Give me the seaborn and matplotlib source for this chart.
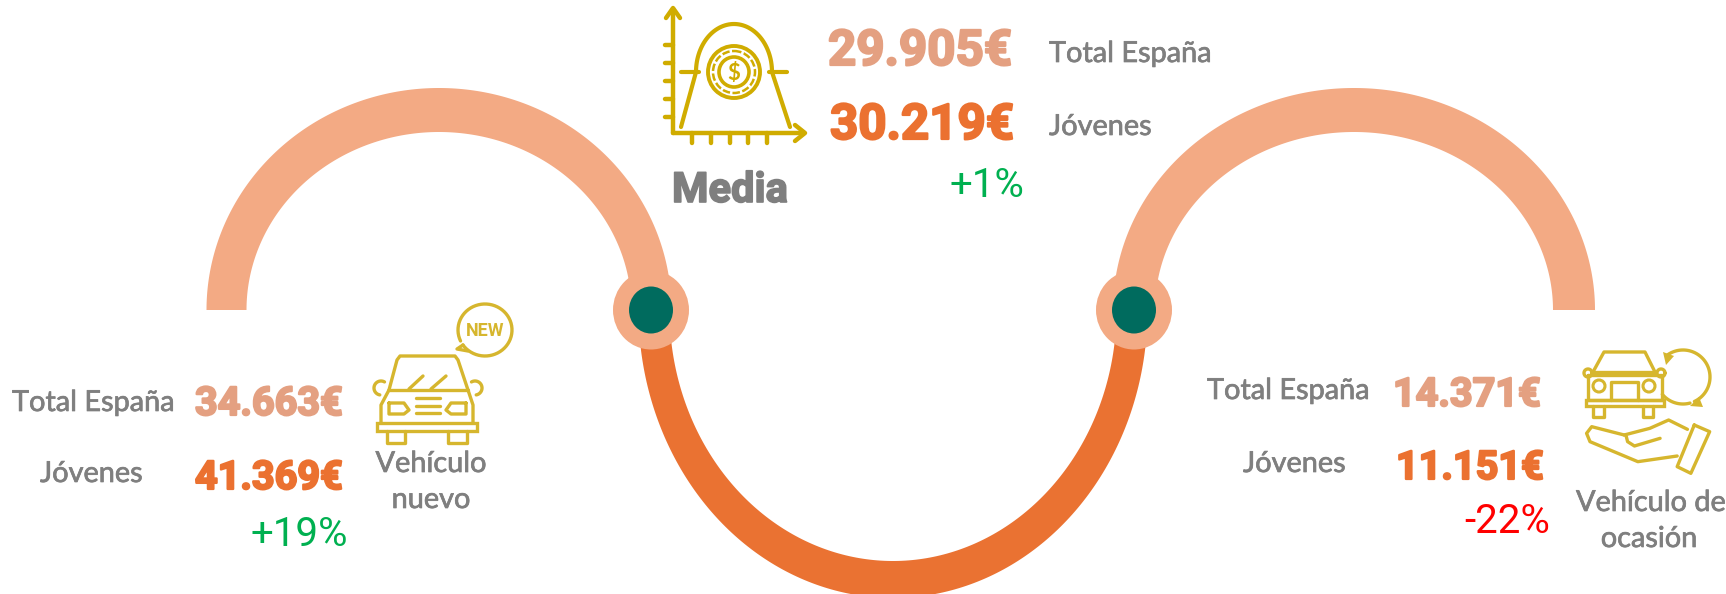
import numpy as np
import seaborn as sns
import matplotlib.pyplot as plt
import matplotlib.patheffects as pe
from matplotlib.patches import Ellipse, Circle, Rectangle

# values of the three blocks: media, vehiculo nuevo, vehiculo de ocasion
total_espana = [29905, 34663, 14371]
jovenes = [30219, 41369, 11151]
cambio = ['+1%', '+19%', '-22%']
cambio_color = ['#00B050', '#00B050', '#FF0000']
lab_total = 'Total España'
lab_jovenes = 'Jóvenes'

LIGHT = '#F3AA84'
ORANGE = '#EA7232'
TEAL = '#006B5E'
GRAY = '#7F7F7F'
VAL_LIGHT = '#E4A081'
VAL_ORANGE = '#EB7130'
GOLD = '#D0AC00'
GOLD2 = '#D6B62E'

sns.set_theme(style='white')
plt.rcParams['font.family'] = ['Lato', 'DejaVu Sans']

fig, ax = plt.subplots(figsize=(17.26, 5.94), dpi=100)
fig.subplots_adjust(0, 0, 1, 1)
ax.set_xlim(0, 1726)
ax.set_ylim(594, 0)
ax.axis('off')


def ring(cx, cy, a_out, b_out, a_in, b_in, color, upper=True, z=1):
    t = np.linspace(np.pi, 2 * np.pi, 200) if upper else np.linspace(np.pi, 0, 200)
    xo = cx + a_out * np.cos(t)
    yo = cy + b_out * np.sin(t)
    xi = cx + a_in * np.cos(t[::-1])
    yi = cy + b_in * np.sin(t[::-1])
    ax.fill(np.r_[xo, xi], np.r_[yo, yi], color=color, lw=0, zorder=z)


def stroke(xs, ys, color=GOLD2, lw=2.4):
    sns.lineplot(x=xs, y=ys, sort=False, estimator=None, color=color, linewidth=lw, ax=ax, zorder=4)


def arc(cx, cy, rx, ry, a0, a1, color=GOLD2, lw=2.4):
    t = np.radians(np.linspace(a0, a1, 60))
    ax.plot(cx + rx * np.cos(t), cy - ry * np.sin(t), color=color, lw=lw, zorder=4)


def value(x, y, v, color, size):
    s = f'{v:,}'.replace(',', '.') + '€'
    ax.text(x, y, s, color=color, fontsize=size, family=['Roboto', 'DejaVu Sans'], weight='bold',
            ha='left', va='baseline', zorder=5,
            path_effects=[pe.withStroke(linewidth=1.6, foreground=color)])


def label(x, y, s, ha='left', size=20.8):
    ax.text(x, y, s, color=GRAY, fontsize=size, ha=ha, va='baseline', zorder=5,
            path_effects=[pe.withStroke(linewidth=0.5, foreground=GRAY)])


def pct(x, y, s, color):
    ax.text(x, y, s, color=color, fontsize=29, family=['Roboto', 'DejaVu Sans'],
            ha='right', va='baseline', zorder=5)


# arches
ring(439, 310, 232.5, 222, 192.5, 178, LIGHT)
ring(1354, 310, 241, 222, 199, 178, LIGHT)
ring(893, 310, 254.5, 288, 223.5, 251, ORANGE, upper=False, z=0)

# joints
for cx in [651, 1134]:
    ax.add_patch(Ellipse((cx, 310), 76, 79, color=LIGHT, lw=0, zorder=2))
    ax.add_patch(Ellipse((cx, 310), 44, 47, color=TEAL, lw=0, zorder=3))

# Media block
value(828, 65, total_espana[0], VAL_LIGHT, 35.5)
value(830, 139, jovenes[0], VAL_ORANGE, 35.5)
label(1049, 62, lab_total)
label(1049, 135, lab_jovenes)
ax.text(672, 202, 'Media', color=GRAY, fontsize=30, weight='bold', family=['Roboto', 'DejaVu Sans'],
        va='baseline', zorder=5, path_effects=[pe.withStroke(linewidth=1.2, foreground=GRAY)])
pct(1024, 197, cambio[0], cambio_color[0])

# Media icon
stroke([673, 673], [133, 10], GOLD, 3.2)
stroke([666, 673, 680], [18, 8, 18], GOLD, 3.2)
stroke([673, 802], [133, 133], GOLD, 3.2)
stroke([795, 805, 795], [125, 133, 141], GOLD, 3.2)
for ty in [45, 63, 81, 99, 117]:
    stroke([665, 673], [ty, ty], GOLD, 3.2)
for tx in [692, 711, 730, 748, 767]:
    stroke([tx, tx], [133, 143], GOLD, 3.2)
t = np.linspace(np.pi, 0, 60)
stroke(np.r_[681, 734 + 38 * np.cos(t), 790], np.r_[127, 72 - 48 * np.sin(t), 127], GOLD, 3)
stroke([681, 699], [72, 72], GOLD, 3)
stroke([769, 787], [72, 72], GOLD, 3)
ax.add_patch(Circle((734, 72), 26, fc='none', ec=GOLD, lw=2.8, zorder=4))
ax.add_patch(Circle((734, 72), 21, fc='none', ec=GOLD, lw=1.8, ls=(0, (3, 1)), zorder=4))
ax.add_patch(Circle((734, 72), 15, fc='none', ec=GOLD, lw=2.6, zorder=4))
ax.text(734, 73, '$', color=GOLD, fontsize=16, weight='bold', ha='center', va='center', zorder=5)

# Vehiculo nuevo block
label(12, 411, lab_total)
label(40, 482, lab_jovenes)
value(195, 415, total_espana[1], VAL_LIGHT, 28.5)
value(195, 489, jovenes[1], VAL_ORANGE, 28.5)
pct(348, 546, cambio[1], cambio_color[1])
label(431, 472, 'Vehículo', 'center')
label(431, 508, 'nuevo', 'center')

# new car icon
stroke([389, 397, 400, 455, 458, 468], [390, 360, 356, 356, 360, 390])
stroke([389, 468], [390, 390])
stroke([389, 381, 381], [390, 405, 423])
stroke([468, 473, 473], [390, 405, 423])
ax.add_patch(Rectangle((377, 423), 100, 8, fc='none', ec=GOLD2, lw=2.4, zorder=4))
stroke([387, 387, 405, 405], [431, 443, 443, 431])
stroke([448, 448, 467, 467], [431, 443, 443, 431])
stroke([409, 423], [389, 376])
stroke([431, 446], [389, 376])
for gy in [398, 406, 413]:
    stroke([416, 440], [gy, gy])
stroke([389, 404, 409, 404, 389, 389], [403, 403, 410, 414, 414, 403])
stroke([466, 451, 446, 451, 466, 466], [403, 403, 410, 414, 414, 403])
arc(381, 388, 7, 7, 60, 260)
arc(475, 388, 7, 7, -80, 120)
arc(485, 330, 27, 26, -145, 205)
stroke([463, 457, 468], [345, 349, 351])
ax.text(485, 331, 'NEW', color=GOLD2, fontsize=13, weight='bold', family=['Roboto', 'DejaVu Sans'],
        ha='center', va='center', zorder=5)

# Vehiculo de ocasion block
label(1207, 399, lab_total)
label(1243, 472, lab_jovenes)
value(1393, 406, total_espana[2], VAL_LIGHT, 28.5)
value(1396, 479, jovenes[2], VAL_ORANGE, 28.5)
pct(1550, 533, cambio[2], cambio_color[2])
label(1576, 511, 'Vehículo de')
label(1649, 547, 'ocasión', 'center')

# used car icon
stroke([1593, 1604, 1645, 1655], [372, 352, 352, 372])
stroke([1593, 1655], [372, 372])
stroke([1588, 1588, 1662, 1662, 1588], [375, 400, 400, 375, 375])
ax.add_patch(Rectangle((1586, 400), 78, 6, fc='none', ec=GOLD2, lw=2.4, zorder=4))
stroke([1593, 1593, 1604, 1604], [406, 417, 417, 406])
stroke([1643, 1643, 1653, 1653], [406, 417, 417, 406])
ax.add_patch(Circle((1599, 386), 6, fc='none', ec=GOLD2, lw=2.2, zorder=4))
ax.add_patch(Circle((1649, 386), 6, fc='none', ec=GOLD2, lw=2.2, zorder=4))
stroke([1611, 1611, 1638, 1638], [400, 382, 382, 400])
arc(1588, 373, 4, 4, 0, 360)
arc(1661, 373, 4, 4, 0, 360)
arc(1683, 377, 27, 27, 125, -65)
arc(1683, 377, 27, 27, -75, -140)
ax.fill([1663, 1674, 1666], [352, 356, 365], color=GOLD2, lw=0, zorder=4)
ax.fill([1699, 1703, 1690], [397, 407, 406], color=GOLD2, lw=0, zorder=4)


def hand_x(v):
    return 1190 + np.asarray(v) / 2.925


def hand_y(v):
    return 330 + np.asarray(v) / 3


stroke(hand_x([1270, 1175, 1160, 1170, 1310, 1425]), hand_y([315, 290, 310, 335, 395, 378]))
stroke(hand_x([1270, 1345, 1400, 1455]), hand_y([315, 295, 270, 298]))
stroke(hand_x([1375, 1300, 1280, 1275]), hand_y([325, 348, 335, 315]))
stroke(hand_x([1475, 1520, 1465, 1425, 1475]), hand_y([285, 305, 430, 410, 285]))

fig.savefig('out.png', dpi=100, facecolor='white')
